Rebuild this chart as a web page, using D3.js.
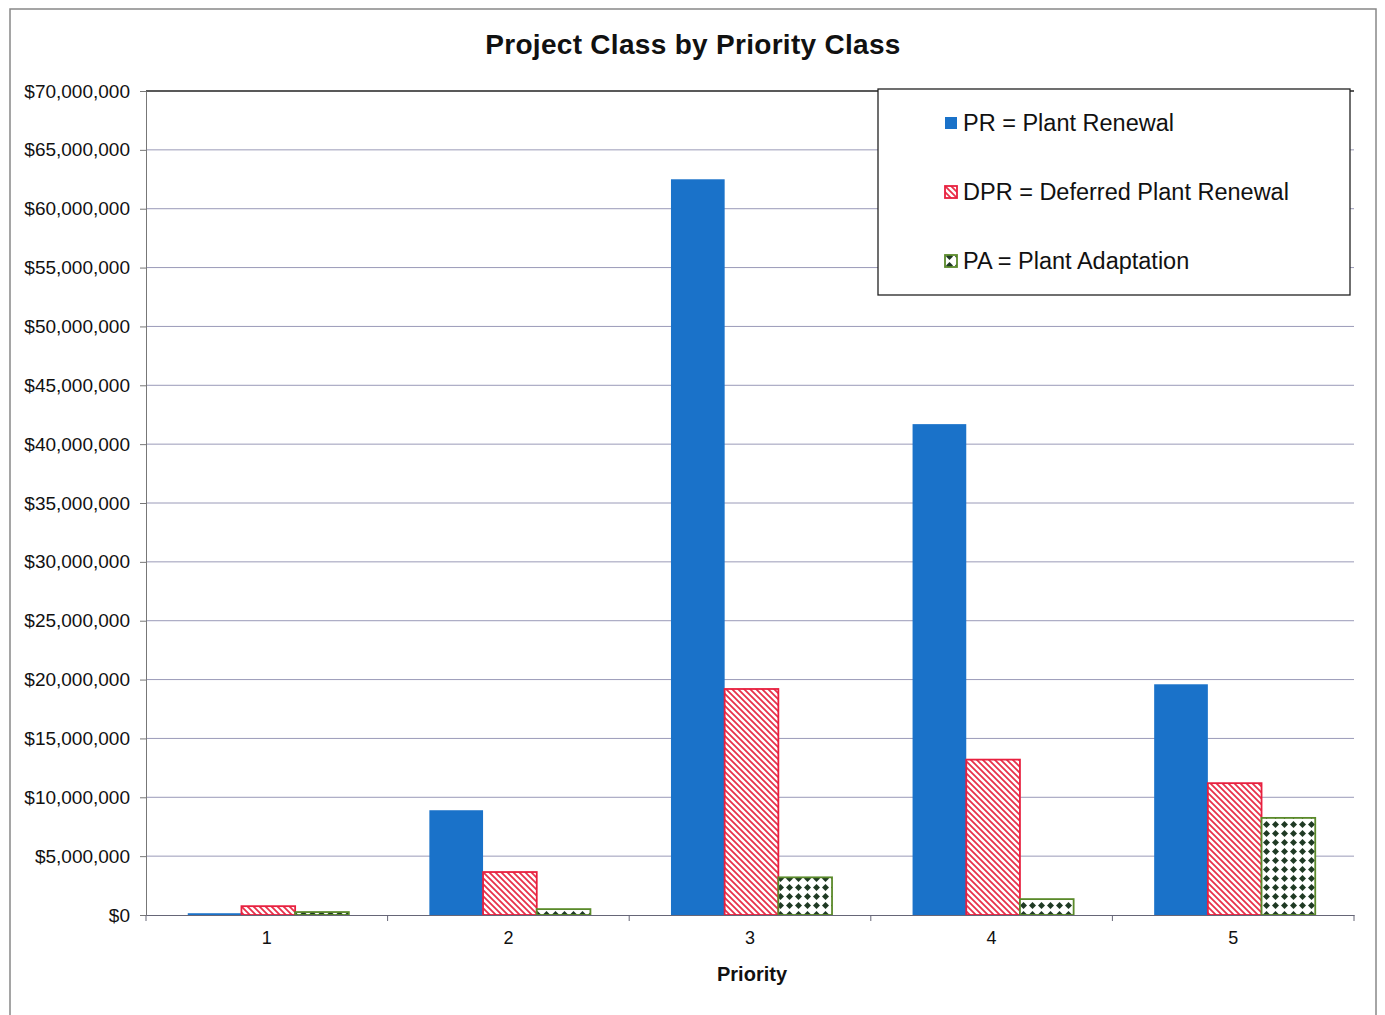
<!DOCTYPE html>
<html>
<head>
<meta charset="utf-8">
<script src="https://cdn.jsdelivr.net/npm/d3@7"></script>
<style>
  body { margin:0; background:#fff; }
  text { font-family: "Liberation Sans", Arial, sans-serif; fill:#111; }
</style>
</head>
<body>
<svg></svg>
<script>
var priorities = ["1","2","3","4","5"];
var seriesNames = ["PR = Plant Renewal","DPR = Deferred Plant Renewal","PA = Plant Adaptation"];
var prValues  = [150000, 8900000, 62500000, 41700000, 19600000];
var dprValues = [750000, 3650000, 19200000, 13200000, 11200000];
var paValues  = [250000, 500000, 3200000, 1350000, 8250000];
var yTicks = [0,5e6,10e6,15e6,20e6,25e6,30e6,35e6,40e6,45e6,50e6,55e6,60e6,65e6,70e6];

var screen = { width:1385, height:1015 };
var svg = d3.select("svg")
  .attr("width",screen.width)
  .attr("height",screen.height);

var margins = { top:91, bottom:100, left:146, right:31 };
var width = screen.width - margins.left - margins.right;   // 1208
var height = 915 - margins.top;                           // 824

// patterns
var defs = svg.append("defs");
var stripe = defs.append("pattern")
  .attr("id","stripes")
  .attr("patternUnits","userSpaceOnUse")
  .attr("width",6).attr("height",6);
stripe.append("rect").attr("width",6).attr("height",6).attr("fill","#fff");
stripe.append("path")
  .attr("d","M0,0 L6,6 M-3,3 L3,9 M3,-3 L9,3")
  .attr("stroke","#e8304a").attr("stroke-width",1.8);

var dots = defs.append("pattern")
  .attr("id","dots")
  .attr("patternUnits","userSpaceOnUse")
  .attr("width",9).attr("height",9);
dots.append("rect").attr("width",9).attr("height",9).attr("fill","#fff");
dots.append("path")
  .attr("d","M4.5,1 L8,4.5 L4.5,8 L1,4.5 Z")
  .attr("fill","#1f3a24");

var fills = ["#1a72c9","url(#stripes)","url(#dots)"];
var strokes = ["#1a72c9","#e8203f","#5a8a2a"];

// outer frame
svg.append("rect")
  .attr("x",10).attr("y",9)
  .attr("width",1366).attr("height",1020)
  .attr("fill","none").attr("stroke","#888").attr("stroke-width",1.5);

svg.append("text")
  .attr("x",693).attr("y",54)
  .attr("text-anchor","middle")
  .attr("font-size",28).attr("font-weight","bold")
  .attr("letter-spacing",0.3)
  .attr("fill","#222")
  .text("Project Class by Priority Class");

var xScale = d3.scaleBand()
  .domain(priorities)
  .range([0,width])
  .paddingInner(0).paddingOuter(0);
var yScale = d3.scaleLinear().domain([0,70e6]).range([height,0]);

var plot = svg.append("g")
  .classed("plot",true)
  .attr("transform","translate("+margins.left+","+margins.top+")");

// gridlines
plot.selectAll("line.grid")
  .data(yTicks.slice(1))
  .enter()
  .append("line")
  .classed("grid",true)
  .attr("x1",0).attr("x2",width)
  .attr("y1",function(d){ return yScale(d); })
  .attr("y2",function(d){ return yScale(d); })
  .attr("stroke",function(d){ return d==70e6 ? "#222" : "#9a9ab8"; })
  .attr("stroke-width",function(d){ return d==70e6 ? 1.5 : 1; });

// bars
var bw = xScale.bandwidth()/4.5;
var data = [prValues, dprValues, paValues];
var series = plot.selectAll("g.series")
  .data(data)
  .enter()
  .append("g")
  .classed("series",true);

series.selectAll("rect")
  .data(function(d,si){ return d.map(function(v,i){ return {v:v, i:i, s:si}; }); })
  .enter()
  .append("rect")
  .attr("x",function(d){ return xScale(priorities[d.i]) + bw*0.75 + d.s*bw + 1.5; })
  .attr("y",function(d){ return yScale(d.v); })
  .attr("width",bw)
  .attr("height",function(d){ return height - yScale(d.v); })
  .attr("fill",function(d){ return fills[d.s]; })
  .attr("stroke",function(d){ return strokes[d.s]; })
  .attr("stroke-width",function(d){ return d.s==0 ? 0 : 1.8; });

// axes
var yAxis = d3.axisLeft(yScale)
  .tickValues(yTicks)
  .tickSize(6)
  .tickFormat(function(d){ return "$" + d3.format(",")(d); });
var yg = plot.append("g").classed("yAxis",true).call(yAxis);
yg.select(".domain").attr("stroke","#777");
yg.selectAll(".tick line").attr("stroke","#777");
yg.selectAll("text")
  .attr("font-size",19)
  .attr("font-family","Liberation Sans, Arial, sans-serif")
  .attr("fill","#111")
  .attr("x",-16);

var xAxis = d3.axisBottom(xScale).tickSize(0).tickSizeOuter(0);
var xg = plot.append("g").classed("xAxis",true)
  .attr("transform","translate(0,"+height+")")
  .call(xAxis);
xg.select(".domain").attr("stroke","#667");
xg.selectAll("text")
  .attr("font-size",18)
  .attr("font-family","Liberation Sans, Arial, sans-serif")
  .attr("fill","#111")
  .attr("dy","1.45em");

// category tick marks on band edges
plot.selectAll("line.xt")
  .data(priorities.concat(["end"]))
  .enter()
  .append("line")
  .classed("xt",true)
  .attr("x1",function(d,i){ return i*xScale.bandwidth(); })
  .attr("x2",function(d,i){ return i*xScale.bandwidth(); })
  .attr("y1",height).attr("y2",height+6)
  .attr("stroke","#667");

svg.append("text")
  .attr("x",752).attr("y",981)
  .attr("text-anchor","middle")
  .attr("font-size",20).attr("font-weight","bold")
  .attr("font-family","Open Sans, sans-serif")
  .attr("fill","#222")
  .text("Priority");

// legend
var legend = svg.append("g")
  .classed("legend",true)
  .attr("transform","translate(878,89)");
legend.append("rect")
  .attr("width",472).attr("height",206)
  .attr("fill","#fff").attr("stroke","#222").attr("stroke-width",1.3);

var legendLines = legend.selectAll("g")
  .data(seriesNames)
  .enter()
  .append("g")
  .attr("transform",function(d,i){ return "translate(67,"+(34+i*69)+")"; });

legendLines.append("rect")
  .attr("x",0).attr("y",-6)
  .attr("width",12).attr("height",12)
  .attr("fill",function(d,i){ return fills[i]; })
  .attr("stroke",function(d,i){ return strokes[i]; })
  .attr("stroke-width",function(d,i){ return i==0 ? 0 : 1.8; });

legendLines.append("text")
  .attr("x",18).attr("y",8)
  .attr("font-size",23.5)
  .attr("fill","#111")
  .text(function(d){ return d; });
</script>
</body>
</html>
